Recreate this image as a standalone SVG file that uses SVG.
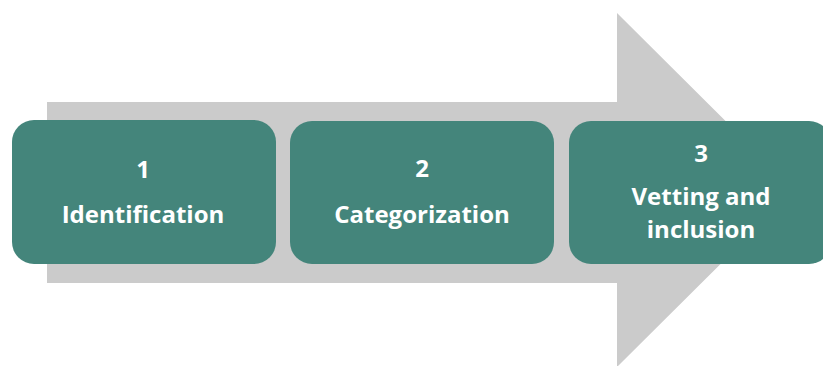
<svg xmlns="http://www.w3.org/2000/svg" width="823" height="366" viewBox="0 0 823 366">
<style>
.box{fill:#44857b}
.t{fill:#ffffff;font-family:"Open Sans","Liberation Sans",sans-serif;font-weight:bold;font-size:24px;text-anchor:middle;font-variant-ligatures:none}
</style>
<rect width="823" height="366" fill="#ffffff"/>
<g id="arrow">
<polygon points="47,102 617,102 617,13 795,190 617,367 617,283 47,283" fill="#cbcbcb"/>
</g>
<g id="connectors"></g>
<g id="node1">
<rect class="box" x="12" y="120" width="264" height="144" rx="22"/>
<text class="t" x="143" y="178">1</text>
<text class="t" x="143" y="223">Identification</text>
</g>
<g id="node2">
<rect class="box" x="290" y="121" width="264" height="143" rx="22"/>
<text class="t" x="422" y="177">2</text>
<text class="t" x="422" y="223">Categorization</text>
</g>
<g id="node3">
<rect class="box" x="569" y="121" width="262" height="143" rx="22"/>
<text class="t" x="701" y="162">3</text>
<text class="t" x="701" y="205">Vetting and</text>
<text class="t" x="701" y="238">inclusion</text>
</g>
</svg>
